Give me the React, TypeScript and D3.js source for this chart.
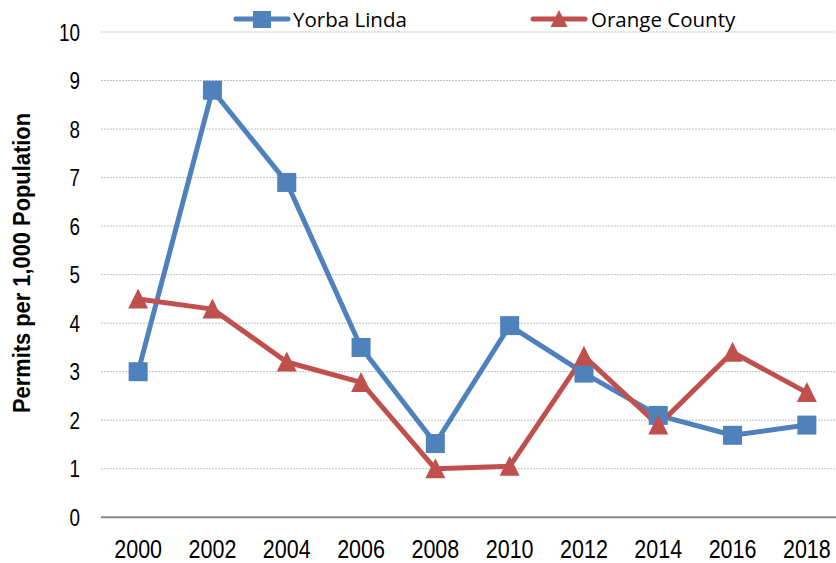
import React from "react";
import * as d3 from "d3";

const years = ["2000", "2002", "2004", "2006", "2008", "2010", "2012", "2014", "2016", "2018"];
const yorbaLinda = [3.0, 8.8, 6.9, 3.5, 1.52, 3.95, 2.97, 2.1, 1.69, 1.9];
const orangeCounty = [4.5, 4.29, 3.2, 2.78, 1.0, 1.05, 3.32, 1.9, 3.4, 2.57];
const yTicks = [0, 1, 2, 3, 4, 5, 6, 7, 8, 9, 10];
const yTitle = "Permits per 1,000 Population";
const seriesNames = ["Yorba Linda", "Orange County"];

const W = 836;
const H = 563;
const left = 101;
const right = 844;
const top = 32;
const bottom = 517.3;
const BLUE = "#4F81BD";
const RED = "#C0504D";
const SANS = "'Liberation Sans', Arial, sans-serif";
const LEG = "'Open Sans', Lato, sans-serif";

export default function App() {
  const x = d3.scaleBand().domain(years).range([left, right]);
  const y = d3.scaleLinear().domain([0, 10]).range([bottom, top]);
  const cx = (yr: string) => (x(yr) as number) + x.bandwidth() / 2;
  const line = d3
    .line<number>()
    .x((_, i) => cx(years[i]))
    .y((d) => y(d));

  const sq = 19;
  const tri = (px: number, py: number, s = 20) => {
    const h = s * 0.95;
    return `M${px},${py - h / 2 - 1}L${px + s / 2},${py + h / 2}L${px - s / 2},${py + h / 2}Z`;
  };

  return (
    <svg
      width={W}
      height={H}
      style={{ position: "absolute", left: 0, top: 0, display: "block", background: "#fff" }}
    >
      {yTicks.slice(1).map((t) => (
        <line
          key={t}
          x1={left}
          x2={W}
          y1={y(t)}
          y2={y(t)}
          stroke="#BFBFBF"
          strokeWidth={1}
          strokeDasharray="2,1"
        />
      ))}
      <line x1={left} x2={W} y1={y(0)} y2={y(0)} stroke="#868686" strokeWidth={2} />
      {yTicks.map((t) => (
        <text
          key={t}
          transform={`translate(80,${y(t) + 8.5}) scale(0.82,1)`}
          textAnchor="end"
          fontFamily={SANS}
          fontSize={23}
          fill="#000"
        >
          {t}
        </text>
      ))}
      {years.map((yr) => (
        <text
          key={yr}
          transform={`translate(${cx(yr)},558) scale(0.86,1)`}
          textAnchor="middle"
          fontFamily={SANS}
          fontSize={25}
          fill="#000"
        >
          {yr}
        </text>
      ))}
      <text
        transform={`translate(30,263) rotate(-90)`}
        textAnchor="middle"
        fontFamily={SANS}
        fontWeight="bold"
        fontSize={23.5}
        textLength={300}
        lengthAdjust="spacingAndGlyphs"
        fill="#000"
      >
        {yTitle}
      </text>

      <path d={line(yorbaLinda) || ""} fill="none" stroke={BLUE} strokeWidth={5} strokeLinejoin="round" />
      <path d={line(orangeCounty) || ""} fill="none" stroke={RED} strokeWidth={5} strokeLinejoin="round" />
      {yorbaLinda.map((v, i) => (
        <rect
          key={i}
          x={cx(years[i]) - sq / 2}
          y={y(v) - sq / 2}
          width={sq}
          height={sq}
          fill={BLUE}
        />
      ))}
      {orangeCounty.map((v, i) => (
        <path key={i} d={tri(cx(years[i]), y(v))} fill={RED} />
      ))}

      {/* legend */}
      <line x1={236} x2={288} y1={19} y2={19} stroke={BLUE} strokeWidth={5} strokeLinecap="round" />
      <rect x={262 - 9} y={11} width={18} height={17} fill={BLUE} />
      <text x={293} y={27} fontFamily={LEG} fontSize={20.5} fill="#000">
        {seriesNames[0]}
      </text>
      <line x1={533} x2={585} y1={19} y2={19} stroke={RED} strokeWidth={5} strokeLinecap="round" />
      <path d={tri(559, 19, 17)} fill={RED} />
      <text x={591} y={27} fontFamily={LEG} fontSize={20.5} fill="#000">
        {seriesNames[1]}
      </text>
    </svg>
  );
}
